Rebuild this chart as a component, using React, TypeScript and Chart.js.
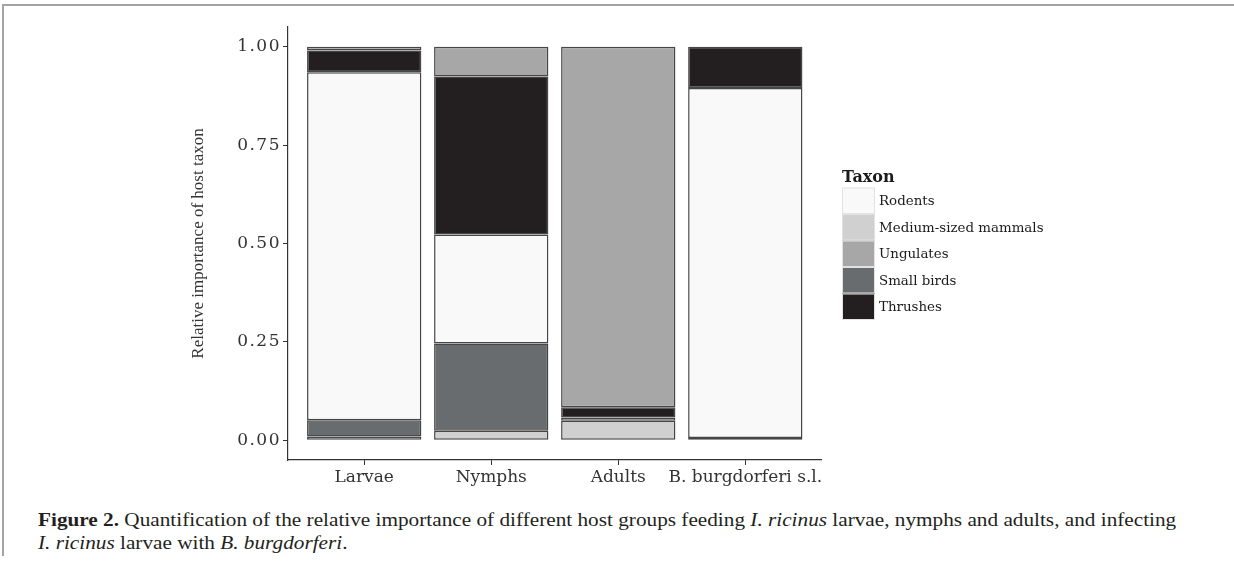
import React, { useEffect, useRef } from "react";
import { Chart, registerables } from "chart.js";

Chart.register(...registerables);

const categories = ["Larvae", "Nymphs", "Adults", "B. burgdorferi s.l."];
const legendOrder = ["Rodents", "Medium-sized mammals", "Ungulates", "Small birds", "Thrushes"];
const mediumMammals = [0.01, 0.024, 0.05, 0.0];
const smallBirds = [0.041, 0.222, 0.0, 0.006];
const rodents = [0.884, 0.277, 0.008, 0.889];
const thrushes = [0.055, 0.401, 0.026, 0.105];
const ungulates = [0.01, 0.076, 0.916, 0.0];
const yTicks = [0, 0.25, 0.5, 0.75, 1];

const series = [
  { label: "Medium-sized mammals", values: mediumMammals, color: "#d0d0d1" },
  { label: "Small birds", values: smallBirds, color: "#696c6e" },
  { label: "Rodents", values: rodents, color: "#f9f9f9" },
  { label: "Thrushes", values: thrushes, color: "#231f20" },
  { label: "Ungulates", values: ungulates, color: "#a7a7a8" },
];

const spacingPlugin = {
  id: "tickSpacing",
  afterDatasetsDraw(chart: any) {
    chart.ctx.letterSpacing = "1.5px";
  },
  afterDraw(chart: any) {
    chart.ctx.letterSpacing = "0px";
  },
};

const legendPlugin = {
  id: "taxonLegend",
  afterDraw(chart: any) {
    const ctx = chart.ctx;
    ctx.save();
    ctx.letterSpacing = "0px";
    const x = 842;
    const y0 = 187.5;
    const w = 33;
    const h = 26.5;
    ctx.fillStyle = "#1a1a1a";
    ctx.font = 'bold 16px "DejaVu Serif"';
    ctx.textAlign = "left";
    ctx.textBaseline = "alphabetic";
    ctx.fillText("Taxon", x, 182);
    legendOrder.forEach((name, i) => {
      const ds = chart.data.datasets.find((d: any) => d.label === name);
      const y = y0 + i * h;
      ctx.fillStyle = ds.backgroundColor;
      ctx.fillRect(x, y, w, h);
      ctx.strokeStyle = "#e2e2e2";
      ctx.lineWidth = 1;
      ctx.strokeRect(x + 0.5, y + 0.5, w - 1, h - 1);
      ctx.fillStyle = "#1a1a1a";
      ctx.font = '13.4px "DejaVu Serif"';
      ctx.textBaseline = "middle";
      ctx.fillText(name, x + 37, y + h / 2 + 1);
    });
    ctx.restore();
  },
};

export default function App() {
  const ref = useRef<HTMLCanvasElement | null>(null);

  useEffect(() => {
    if (!ref.current) return;
    const chart = new Chart(ref.current, {
      type: "bar",
      data: {
        datasets: series.map((s) => ({
          label: s.label,
          data: s.values.map((v, i) => ({ x: i, y: v })),
          backgroundColor: s.color,
          borderColor: "#464646",
          borderWidth: 1.5,
          borderSkipped: false,
          categoryPercentage: 1,
          barPercentage: 0.9,
        })),
      },
      options: {
        responsive: false,
        animation: false,
        devicePixelRatio: 1,
        layout: { padding: { left: 0, right: 1234 - 821.5, top: 27, bottom: 0 } },
        plugins: { legend: { display: false }, tooltip: { enabled: false } },
        scales: {
          x: {
            type: "linear",
            min: -0.6,
            max: 3.6,
            offset: false,
            stacked: true,
            afterBuildTicks: (s: any) => {
              s.ticks = categories.map((_, i) => ({ value: i }));
            },
            afterFit: (s: any) => {
              s.height = 40;
            },
            grid: { offset: false, drawOnChartArea: false, drawTicks: true, tickLength: 5, color: "#333", lineWidth: 1 },
            border: { display: true, color: "#333", width: 1.2 },
            ticks: {
              autoSkip: false,
              maxRotation: 0,
              color: "#333",
              padding: 2,
              font: { family: "DejaVu Serif", size: 17 },
              callback: (v: any) => categories[v as number] ?? "",
            },
          },
          y: {
            type: "linear",
            min: -0.05,
            max: 1.05,
            stacked: true,
            afterBuildTicks: (s: any) => {
              s.ticks = yTicks.map((v) => ({ value: v }));
            },
            afterFit: (s: any) => {
              s.width = 288;
            },
            grid: { drawOnChartArea: false, drawTicks: true, tickLength: 5, color: "#333", lineWidth: 1 },
            border: { display: true, color: "#333", width: 1.2 },
            title: {
              display: true,
              text: "Relative importance of host taxon",
              color: "#333",
              font: { family: "Liberation Serif", size: 17 },
              padding: { top: 188, bottom: 0 },
            },
            ticks: {
              z: 1,
              color: "#333",
              padding: 2,
              font: { family: "DejaVu Serif", size: 17 },
              callback: (v: any) => Number(v).toFixed(2),
            },
          },
        },
      },
      plugins: [spacingPlugin, legendPlugin],
    });
    return () => chart.destroy();
  }, []);

  return (
    <div
      style={{
        position: "absolute",
        left: 0,
        top: 0,
        width: 1234,
        height: 566,
        background: "#fff",
        overflow: "hidden",
      }}
    >
      <div style={{ position: "absolute", left: 3, top: 4, width: 1231, height: 2, background: "#a3a3a3" }} />
      <div style={{ position: "absolute", left: 2, top: 4, width: 2, height: 552, background: "#a3a3a3" }} />
      <canvas
        ref={ref}
        width={1234}
        height={500}
        style={{ position: "absolute", left: 0, top: 0, width: 1234, height: 500 }}
      />
      <div
        style={{
          position: "absolute",
          left: 38,
          top: 509,
          fontFamily: '"Liberation Serif", serif',
          fontSize: 18,
          lineHeight: "23px",
          color: "#231f20",
          whiteSpace: "nowrap",
          transformOrigin: "0 0",
          transform: "scaleX(1.18)",
        }}
      >
        <b>Figure 2.</b> Quantification of the relative importance of different host groups feeding <i>I. ricinus</i>{" "}
        larvae, nymphs and adults, and infecting
        <br />
        <i>I. ricinus</i> larvae with <i>B. burgdorferi</i>.
      </div>
    </div>
  );
}
